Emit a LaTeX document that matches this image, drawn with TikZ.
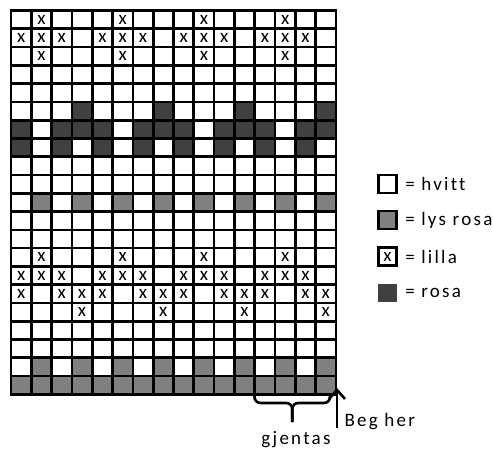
\documentclass[tikz,border=0pt]{standalone}
\usepackage{fontspec}
\setmainfont{Carlito}
\newfontfamily\lblfont[LetterSpace=12,Ligatures=NoCommon]{Carlito}
\usepackage{tikz}
\usetikzlibrary{arrows.meta,positioning}
\definecolor{lysrosa}{gray}{0.5}
\definecolor{rosa}{gray}{0.25}

\begin{document}
\begin{tikzpicture}
[x=1pt,y=-1pt,font=\lblfont\fontsize{19}{22}\selectfont,
      cell/.style={minimum width=20.31pt,minimum height=18.28pt,inner sep=0pt,outer sep=0pt},
      sqw/.style={cell,node contents={}},
      sqx/.style={cell,node contents={x}},
      sql/.style={cell,fill=lysrosa,node contents={}},
      sqd/.style={cell,fill=rosa,node contents={}},
      rule/.style={line width=2.7pt,line cap=rect},
      bracket/.style={line width=2.6pt},
      key/.style={minimum width=18.5pt,minimum height=18pt,inner sep=0pt,line width=2.7pt},
      keytext/.style={right=7pt of #1,inner sep=0pt}]
 \useasboundingbox (0,0) rectangle (493,449);
 \foreach \r/\cells in {
   1/{w,x,w,w,w,x,w,w,w,x,w,w,w,x,w,w},
   2/{x,x,x,w,x,x,x,w,x,x,x,w,x,x,x,w},
   3/{w,x,w,w,w,x,w,w,w,x,w,w,w,x,w,w},
   6/{w,w,w,d,w,w,w,d,w,w,w,d,w,w,w,d},
   7/{d,w,d,d,d,w,d,d,d,w,d,d,d,w,d,d},
   8/{d,w,d,w,d,w,d,w,d,w,d,w,d,w,d,w},
   11/{w,l,w,l,w,l,w,l,w,l,w,l,w,l,w,l},
   14/{w,x,w,w,w,x,w,w,w,x,w,w,w,x,w,w},
   15/{x,x,x,w,x,x,x,w,x,x,x,w,x,x,x,w},
   16/{x,w,x,x,x,w,x,x,x,w,x,x,x,w,x,x},
   17/{w,w,w,x,w,w,w,x,w,w,w,x,w,w,w,x},
   20/{w,l,w,l,w,l,w,l,w,l,w,l,w,l,w,l},
   21/{l,l,l,l,l,l,l,l,l,l,l,l,l,l,l,l}}
  \foreach \c [count=\i] in \cells
   \node (c\r-\i) at ({11+(\i-0.5)*20.31},{10.5+(\r-0.5)*18.28}) [sq\c];
 \foreach \i in {0,...,16}
  \draw[rule] ({11+\i*20.31},10.5) -- ({11+\i*20.31},394.3);
 \foreach \r in {0,...,21}
  \draw[rule] (11,{10.5+\r*18.28}) -- (336,{10.5+\r*18.28});
 \coordinate (rep-l) at (254.5,395);
 \coordinate (rep-r) at (330,395);
 \coordinate (start) at (337,388);
 \coordinate (start-foot) at (337,428);
 \draw[bracket] (rep-l) -- ++(0,2) to[out=-90,in=180] ++(6,6) -- ++(25.75,0)
   to[out=0,in=90] ++(6,6) -- ++(0,13) coordinate (rep-tip);
 \draw[bracket] (rep-r) -- ++(0,2) to[out=-90,in=0] ++(-6,6) -- ++(-25.75,0)
   to[out=180,in=90] ++(-6,6) -- (rep-tip);
 \node (gjentas) at (296,440) {gjentas};
 \draw[bracket,-{Straight Barb[length=9pt,width=16pt]}] (start-foot) -- (start);
 \node[anchor=west] (beg) at (341,422) {Beg her};
 \node[key,draw] (key-w) at (387.5,184) {};
 \node[key,draw,fill=lysrosa] (key-l) at (387.5,220) {};
 \node[key,draw] (key-x) at (387.5,256.5) {x};
 \node[key,fill=rosa] (key-d) at (387.5,293) {};
 \node[keytext=key-w] (txt-w) {= hvitt};
 \node[keytext=key-l] (txt-l) {= lys rosa};
 \node[keytext=key-x] (txt-x) {= lilla};
 \node[keytext=key-d] (txt-d) {= rosa};
\end{tikzpicture}
\end{document}
